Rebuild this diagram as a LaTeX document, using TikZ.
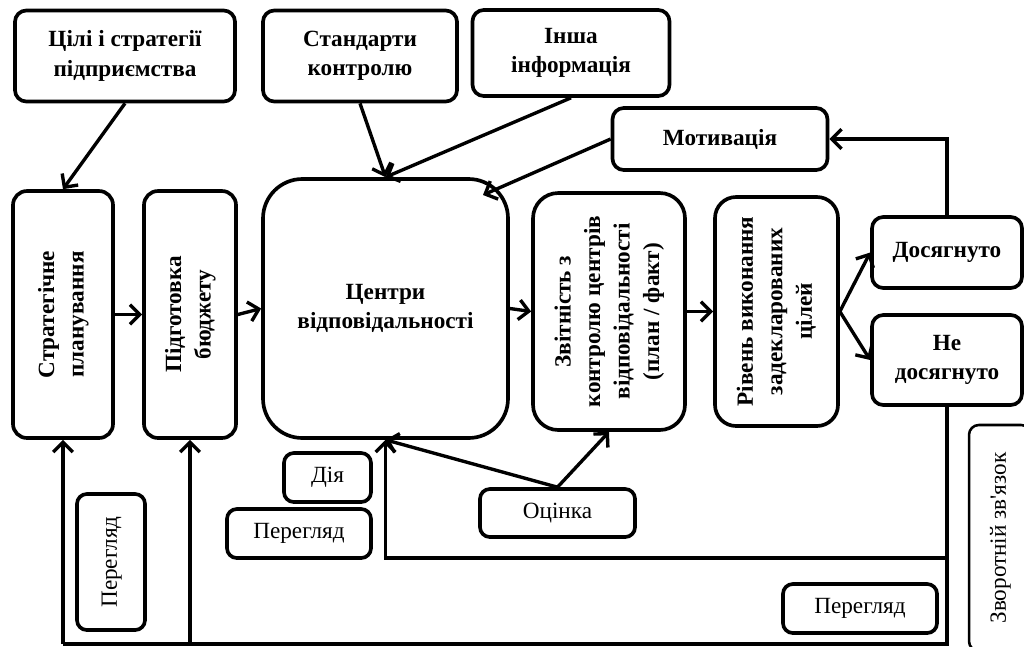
\documentclass[tikz,border=0pt]{standalone}
\usepackage{fontspec}
\setmainfont{Liberation Serif}
\usetikzlibrary{arrows.meta}

\tikzset{
  blk/.style={draw, line width=2.6pt, rounded corners=8pt, align=center, inner sep=0pt,
    font=\bfseries\fontsize{16.5}{21}\selectfont},
  lbl/.style={blk, rounded corners=7pt, font=\fontsize{16.5}{21}\selectfont},
  sz/.style 2 args={minimum width=#1*0.025cm, minimum height=#2*0.025cm},
  arr/.style={line width=2.4pt, -{Straight Barb[length=7pt,width=14pt]}},
  ln/.style={line width=2.4pt}
}
\newcommand{\vlabel}[1]{\rotatebox{90}{\begin{tabular}{@{}c@{}}#1\end{tabular}}}

\begin{document}
\begin{tikzpicture}[x=0.025cm, y=-0.025cm]
  \useasboundingbox (0,0) rectangle (1024,646);
  \clip (0,0) rectangle (1024,646);

  % top row
  \node[blk, sz={220}{91}] (goals) at (125,56) {Цілі і стратегії\\підприємства};
  \node[blk, sz={194}{91}] (stand) at (360,56) {Стандарти\\контролю};
  \node[blk, sz={197}{86}] (info)  at (571,53) {Інша\\інформація};
  \node[blk, sz={215}{62}] (motiv) at (720,139) {Мотивація};

  % main chain
  \node[blk, sz={100}{247}, rounded corners=10pt] (plan) at (63,314.5) {\vlabel{Стратегічне\\планування}};
  \node[blk, sz={92}{247}, rounded corners=10pt] (budget) at (190,314.5) {\vlabel{Підготовка\\бюджету}};
  \node[blk, sz={245}{259}, rounded corners=28pt] (centres) at (385.5,308.5) {Центри\\відповідальності};
  \node[blk, sz={152}{237}, rounded corners=18pt] (report) at (609,311.5)
    {\vlabel{Звітність з\\контролю центрів\\відповідальності\\(план / факт)}};
  \node[blk, sz={123}{229}, rounded corners=15pt] (level) at (776.5,311.5)
    {\vlabel{Рівень виконання\\задекларованих\\цілей}};
  \node[blk, sz={150}{71}] (done) at (947,252.5) {Досягнуто};
  \node[blk, sz={150}{90}] (notdone) at (947,360) {Не\\досягнуто};

  % small labels
  \node[lbl, sz={87}{49}]  (act)    at (327.5,477.5) {Дія};
  \node[lbl, sz={144}{49}] (rev1)   at (299,533.5) {Перегляд};
  \node[lbl, sz={68}{136}] (rev2)   at (111,562) {\vlabel{Перегляд}};
  \node[lbl, sz={155}{48}] (assess) at (557.5,513) {Оцінка};
  \node[lbl, sz={154}{49}] (rev3)   at (860,608.5) {Перегляд};
  \node[lbl, sz={62}{226}, line width=1.8pt] (fback) at (1000,538) {\vlabel{Зворотній зв\textquotesingle язок}};

  \coordinate (cin)  at (483,195);
  \coordinate (rowA) at (600,558);
  \coordinate (rowB) at (500,644);

  \draw[arr] (goals.south) -- (plan.north);
  \draw[arr] (stand.south) -- (centres.north);
  \draw[arr] (info.south) -- (centres.north);
  \draw[arr] (motiv.west) -- (cin);
  \draw[arr] (done.north) |- (motiv.east);

  \draw[arr] (plan.east) -- (budget.west);
  \draw[arr] (budget.east) -- (centres.west);
  \draw[arr] (centres.east) -- (report.west);
  \draw[arr] (report.east) -- (level.west);
  \draw[arr] (level.east) -- (done.west);
  \draw[arr] (level.east) -- (notdone.west);

  \draw[arr] (assess.north) -- (centres.south);
  \draw[arr] (assess.north) -- (report.south);

  % feedback loops
  \draw[arr] (notdone.south) |- (rowA) -| (centres.south);
  \draw[ln] (notdone.south) |- (rowB -| plan.south);
  \draw[arr] (rowB -| plan.south) -- (plan.south);
  \draw[arr] (rowB -| budget.south) -- (budget.south);
\end{tikzpicture}
\end{document}
